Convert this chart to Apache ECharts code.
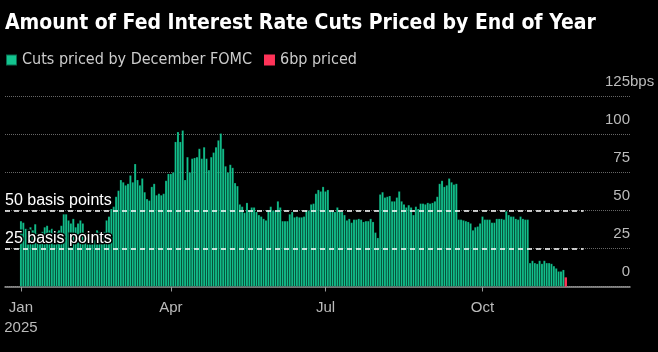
<!DOCTYPE html>
<html>
<head>
<meta charset="utf-8">
<script src="https://cdn.jsdelivr.net/npm/echarts@6/dist/echarts.min.js"></script>
<style>
html, body { margin: 0; padding: 0; background: #000; }
#chart { width: 658px; height: 352px; }
</style>
</head>
<body>
<div id="chart"></div>
<script>
// bp of cuts priced by the December FOMC, one bar per weekday from Jan 2 2025
var jan = [43, 42, 38, 37.5, 39, 37, 41, 35, 34, 36, 39, 40, 37, 38, 37, 36, 37, 40, 47.5, 47.5, 43.5, 41.5];
var feb = [44.5, 39, 41.5, 43.5, 41.5, 35, 34, 32.5, 35, 30.5, 37, 36, 34, 36, 43.5, 46, 51, 52.5, 59, 63];
var mar = [70, 68.5, 66.5, 67.5, 73, 68.5, 80.5, 70, 66.5, 71, 62, 57.5, 56.5, 65.5, 67.5, 60, 61, 60, 61, 69.5, 74];
var apr = [74, 75, 95, 101.5, 95, 102.5, 70, 85, 75, 84, 84.5, 85, 90.5, 84, 91.5, 84, 76.5, 85, 88, 91.5, 96, 100.5];
var may = [90.5, 79, 75, 80, 78, 68, 66, 54, 52.5, 48.5, 55, 50, 52, 52, 49, 47, 46, 44.5, 43.5, 50, 52.5, 50];
var jun = [50, 56, 52, 43, 43, 43, 47.5, 49, 45.5, 46, 45.5, 45.5, 46, 50, 50, 54, 54.5, 61, 63.5, 62.5, 65.5];
var jul = [62.5, 63.5, 50, 50, 49, 52, 49.5, 49, 47, 43.5, 44.5, 42, 44, 44, 44.5, 44, 42.5, 43, 43, 44.5, 42.5, 35.5, 32];
var aug = [60.5, 62, 58.5, 59, 59.5, 56, 56, 58.5, 62.5, 56, 54, 52, 53.5, 52, 47, 52.5, 51, 54.5, 54.5, 54, 55];
var sep = [54.5, 55, 56, 59, 67.5, 69.5, 65.5, 66.5, 71, 68.5, 67, 67.5, 44, 44, 43.5, 43, 42.5, 41.5, 37, 39, 39.5, 41.5];
var oct = [46, 44, 44, 44, 42, 42, 44.5, 44.5, 44.5, 44, 49.5, 47, 46, 46, 44.5, 44, 46, 44.5, 44, 44, 15.5, 17, 15.5];
var nov = [15, 17, 15, 17, 15.5, 15.5, 15, 13.5, 12, 10, 10, 11];
var latest = 6;

var tickMonths = ['Jan', 'Apr', 'Jul', 'Oct'];
var yearLabel = '2025';
var refLevels = [50, 25];
var refLabels = ['50 basis points', '25 basis points'];
var seriesNames = ['Cuts priced by December FOMC', '6bp priced'];

var months = [jan, feb, mar, apr, may, jun, jul, aug, sep, oct, nov];
var cuts = [];
var monthStart = [];
var n = 0;
months.forEach(function(m) {
    monthStart.push(n);
    m.forEach(function(v) {
        cuts.push([n, v]);
        n++;
    });
});
var lastBar = [[n, latest]];
var tickPos = [monthStart[0], monthStart[3], monthStart[6], monthStart[9]];

var xMin = -6.7;
var xMax = n + 27;
var refEnd = n + 7.5;

var chart = echarts.init(document.getElementById('chart'));
var narrow = "'Liberation Sans Narrow', 'DejaVu Sans Condensed', sans-serif";
var regular = "'Liberation Sans', Arial, sans-serif";

chart.setOption({
    backgroundColor: '#000',
    animation: false,
    title: {
        text: 'Amount of Fed Interest Rate Cuts Priced by End of Year',
        left: 5,
        top: 13,
        padding: 0,
        textStyle: { color: '#fff', fontWeight: 'bold', fontSize: 21, fontFamily: narrow }
    },
    legend: {
        data: seriesNames,
        left: 5,
        top: 52,
        padding: 0,
        icon: 'rect',
        itemWidth: 11,
        itemHeight: 11,
        itemGap: 12,
        textStyle: { color: '#ccc', fontSize: 16, fontFamily: narrow }
    },
    grid: { left: 5, right: 28, top: 96, bottom: 65.5 },
    xAxis: {
        type: 'value',
        min: xMin,
        max: xMax,
        splitLine: { show: false },
        axisLine: { lineStyle: { color: '#999', width: 1.5 } },
        axisTick: {
            customValues: tickPos,
            length: 5,
            lineStyle: { color: '#999' }
        },
        axisLabel: {
            customValues: tickPos,
            color: '#bbb',
            fontSize: 15,
            fontFamily: regular,
            lineHeight: 20,
            margin: 11,
            formatter: function(v) {
                var i = tickPos.indexOf(v);
                return i === 0 ? tickMonths[0] + '\n' + yearLabel : tickMonths[i];
            }
        }
    },
    yAxis: {
        type: 'value',
        position: 'right',
        min: 0,
        max: 125,
        interval: 25,
        axisLine: { show: false },
        axisTick: { show: false },
        splitLine: { lineStyle: { color: '#666', type: 'dotted', width: 1 } },
        axisLabel: {
            inside: true,
            align: 'left',
            verticalAlign: 'bottom',
            margin: 25,
            padding: [0, 0, 7, 0],
            color: '#bbb',
            fontSize: 15,
            fontFamily: regular,
            formatter: function(v) {
                return v === 125 ? '{n|' + v + '}{u|bps}' : '{n|' + v + '}';
            },
            rich: {
                n: { width: 25, align: 'right', color: '#bbb', fontSize: 15, fontFamily: regular },
                u: { color: '#bbb', fontSize: 15, fontFamily: regular }
            }
        }
    },
    series: [
        {
            name: seriesNames[0],
            type: 'bar',
            data: cuts,
            barWidth: 2.4,
            barGap: '-100%',
            itemStyle: { color: '#13c48f', borderColor: 'rgba(0,0,0,0.45)', borderWidth: 0.4 },
            markLine: {
                symbol: 'none',
                silent: true,
                z: 5,
                lineStyle: { color: '#fff', type: [5, 4], width: 1.5 },
                label: {
                    position: 'insideStartTop',
                    formatter: '{b}',
                    color: '#fff',
                    fontSize: 16,
                    fontFamily: regular,
                    textBorderColor: '#000',
                    textBorderWidth: 3,
                    distance: [0, 2]
                },
                data: refLevels.map(function(v, i) {
                    return [{ coord: [xMin, v], name: refLabels[i] }, { coord: [refEnd, v] }];
                })
            }
        },
        {
            name: seriesNames[1],
            type: 'bar',
            data: lastBar,
            barWidth: 2.4,
            barGap: '-100%',
            itemStyle: { color: '#ff3358' }
        }
    ]
});
</script>
</body>
</html>
